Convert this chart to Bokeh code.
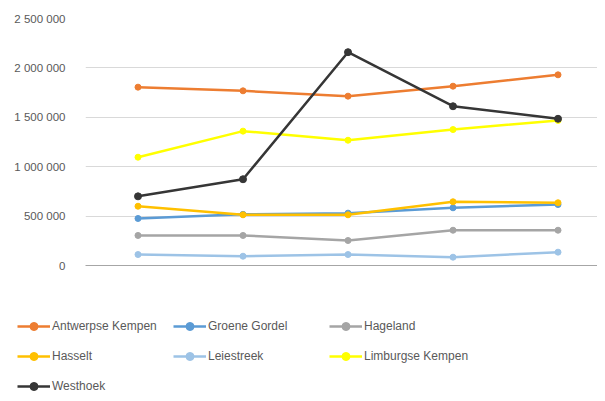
from bokeh.plotting import figure
from bokeh.layouts import column
from bokeh.models import (Range1d, SingleIntervalTicker, FixedTicker,
                          CustomJSTickFormatter, Legend, LegendItem)
from bokeh.embed import file_html
from bokeh.resources import INLINE

periods = [1, 2, 3, 4, 5]

antwerpse_kempen = [1805000, 1768000, 1714000, 1815000, 1930000]
groene_gordel = [476000, 518000, 530000, 584000, 617000]
hageland = [304000, 304000, 253000, 357000, 357000]
hasselt = [600000, 513000, 513000, 645000, 635000]
leiestreek = [111000, 94000, 111000, 84000, 135000]
limburgse_kempen = [1096000, 1360000, 1268000, 1376000, 1468000]
westhoek = [700000, 873000, 2159000, 1612000, 1485000]

series_names = ["Antwerpse Kempen", "Groene Gordel", "Hageland", "Hasselt",
                "Leiestreek", "Limburgse Kempen", "Westhoek"]
series_values = [antwerpse_kempen, groene_gordel, hageland, hasselt,
                 leiestreek, limburgse_kempen, westhoek]
colors = ["#ED7D31", "#5B9BD5", "#A5A5A5", "#FFC000", "#9DC3E6", "#FFFF00", "#363636"]

FONT = "Liberation Sans"
TXT = "#595959"

p = figure(width=597, height=280, output_backend="svg", toolbar_location=None,
           x_range=Range1d(0.5, 5.376), y_range=Range1d(0, 2500000),
           min_border_left=85, min_border_right=0, min_border_top=18,
           min_border_bottom=15)
p.outline_line_color = None
p.frame_align = False

# y axis
p.yaxis.ticker = SingleIntervalTicker(interval=500000)
p.yaxis.formatter = CustomJSTickFormatter(
    code="return tick.toFixed(0).replace(/\\B(?=(\\d{3})+(?!\\d))/g, ' ');")
p.yaxis.axis_line_color = None
p.yaxis.major_tick_line_color = None
p.yaxis.minor_tick_line_color = None
p.yaxis.major_label_standoff = 14
p.yaxis.major_label_text_font = FONT
p.yaxis.major_label_text_font_size = "11.5px"
p.yaxis.major_label_text_color = TXT

# x axis as baseline only (no category labels in the original)
p.xaxis.ticker = FixedTicker(ticks=[])
p.xaxis.major_tick_line_color = None
p.xaxis.minor_tick_line_color = None
p.xaxis.axis_line_color = "#A6A6A6"
p.xaxis.axis_line_width = 1

p.xgrid.grid_line_color = None
p.ygrid.grid_line_color = "#D9D9D9"
p.ygrid.ticker = SingleIntervalTicker(interval=500000)

# legend figure (same data, out of view; only the legend shows)
pl = figure(width=597, height=113, output_backend="svg", toolbar_location=None,
            x_range=Range1d(100, 101), y_range=Range1d(-10, -9),
            x_axis_type=None, y_axis_type=None,
            min_border_left=0, min_border_right=0, min_border_top=0,
            min_border_bottom=0)
pl.outline_line_color = None
pl.frame_align = False
pl.xgrid.grid_line_color = None
pl.ygrid.grid_line_color = None

items = []
for name, vals, col in zip(series_names, series_values, colors):
    sz = 7 if name == "Westhoek" else 6
    p.line(periods, vals, line_color=col, line_width=2.5)
    p.scatter(periods, vals, size=sz, fill_color=col, line_color=col)
    l1 = pl.line(periods, vals, line_color=col, line_width=2.5)
    l2 = pl.scatter(periods, vals, size=sz, fill_color=col, line_color=col)
    items.append(LegendItem(label=name, renderers=[l1, l2]))

legend = Legend(items=items, orientation="horizontal", ncols=3, location=(17, -3),
                glyph_width=33, glyph_height=20, label_height=20,
                label_width=111, label_standoff=2, spacing=10, padding=0,
                margin=0, border_line_color=None, background_fill_alpha=0,
                label_text_font=FONT, label_text_font_size="12px",
                label_text_color=TXT)
pl.add_layout(legend, "center")

layout = column(p, pl, spacing=0)
open("out.html", "w").write(file_html(layout, INLINE))
